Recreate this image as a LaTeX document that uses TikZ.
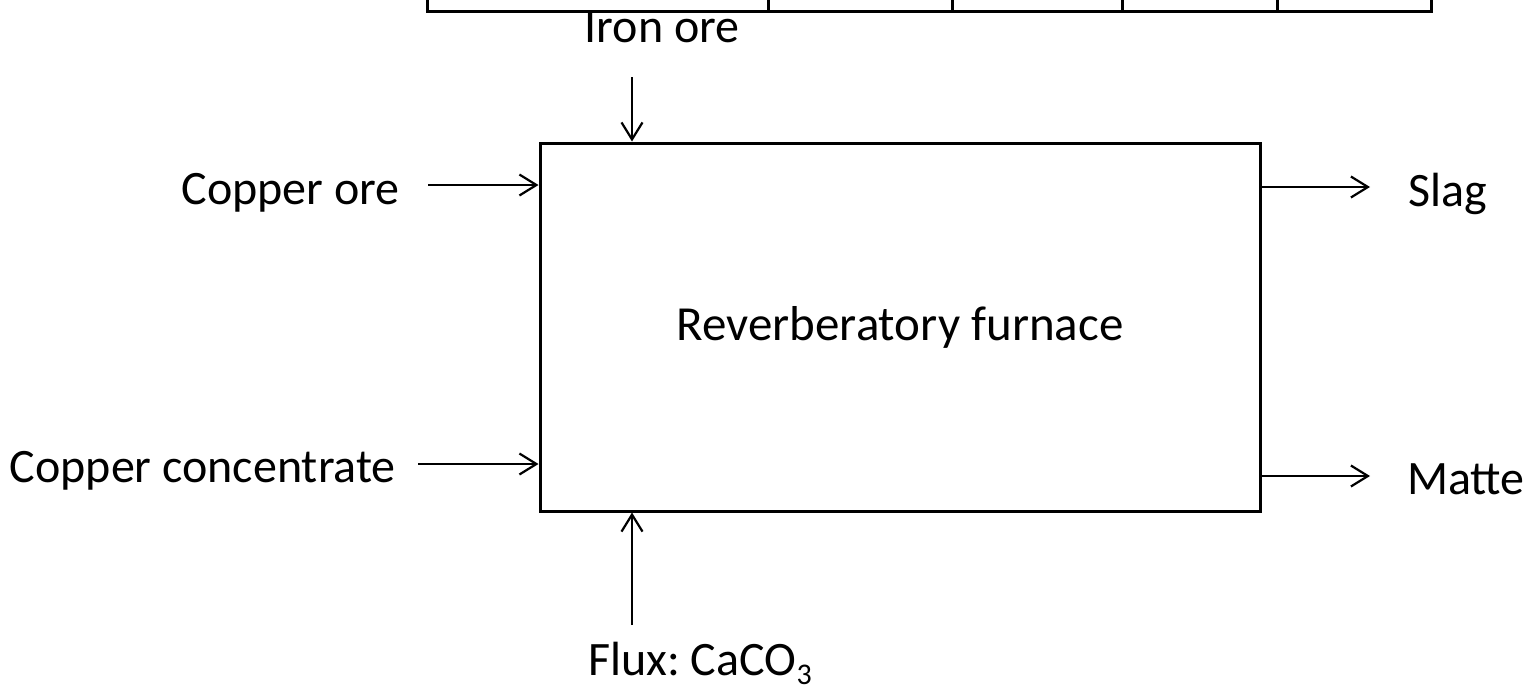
\documentclass[tikz,border=0pt]{standalone}
\usepackage{fontspec}
\setmainfont{Carlito}
\usetikzlibrary{arrows.meta}
\frenchspacing
\begin{document}
\begin{tikzpicture}[x=1pt,y=-1pt,
  lbl/.style={font=\fontsize{48}{50}\selectfont, inner sep=0pt},
  flow/.style={line width=2.2pt, -{Straight Barb[length=17pt,width=21pt,line width=2.2pt]}},
  tbl/.style={line width=3pt},
  furnace/.style={draw, line width=3pt, minimum width=720pt, minimum height=368pt, inner sep=0pt, font=\fontsize{49}{52}\selectfont}]
\useasboundingbox (0,0) rectangle (1524,691);
% table fragment at top
\draw[tbl] (427,0) -- (427,11) -- (1431,11) -- (1431,0);
\foreach \xx in {768,952,1122,1277} \draw[tbl] (\xx,0) -- (\xx,11);
% furnace
\node[furnace] (box) at (900,327) {Reverberatory furnace};
% labels
\node[lbl, anchor=base] (iron) at (662,42) {Iron ore};
\node[lbl, anchor=base east] (cuore) at (400,204) {Copper ore};
\node[lbl, anchor=base east] (cuconc) at (396,482) {Copper concentrate};
\node[lbl, anchor=base west] (slag) at (1408,206) {Slag};
\node[lbl, anchor=base west] (matte) at (1407,494) {Matte};
\node[lbl, anchor=base west] (flux) at (588,675) {Flux: CaCO{\raisebox{-0.2em}{\fontsize{30}{32}\selectfont 3}}};
% arrow free ends
\coordinate (irons) at (632,77);
\coordinate (cuores) at (428,185);
\coordinate (cuconcs) at (418,464);
\coordinate (slage) at (1370,187);
\coordinate (mattee) at (1370,476);
\coordinate (fluxs) at (632,625);
% connectors
\draw[flow] (irons) -- (irons |- box.north);
\draw[flow] (cuores) -- (cuores -| box.west);
\draw[flow] (cuconcs) -- (cuconcs -| box.west);
\draw[flow] (slage -| box.east) -- (slage);
\draw[flow] (mattee -| box.east) -- (mattee);
\draw[flow] (fluxs) -- (fluxs |- box.south);
\end{tikzpicture}
\end{document}
